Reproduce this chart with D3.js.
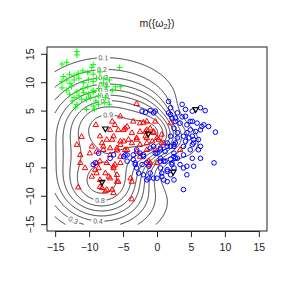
<!DOCTYPE html>
<html>
<head>
<meta charset="utf-8">
<script src="https://cdn.jsdelivr.net/npm/d3@7"></script>
<style>
body { margin: 0; background: #fff; }
text { font-family: "Liberation Sans", Arial, sans-serif; }
</style>
</head>
<body>
<svg id="chart" width="291" height="291"></svg>
<script>
// class omega1 (green +)
var greenPts = [[-11.8,15.4],[-11.8,14.8],[-14.0,13.2],[-13.3,13.5],[-9.4,13.1],[-5.5,12.6],[-13.8,11.0],[-12.9,11.4],
	[-12.2,11.2],[-11.6,11.6],[-10.9,12.0],[-10.2,11.7],[-9.6,12.6],[-9.4,11.4],[-14.0,10.1],[-13.3,10.4],[-12.8,9.8],
	[-12.2,10.4],[-11.5,10.7],[-10.8,9.9],[-10.1,10.4],[-9.4,10.1],[-8.9,10.7],[-7.8,10.7],[-7.0,10.4],[-14.0,9.0],
	[-13.3,8.6],[-12.6,9.2],[-11.8,8.3],[-10.9,8.9],[-10.2,9.2],[-9.4,8.6],[-8.6,8.9],[-7.9,9.8],[-7.4,9.2],[-6.1,9.2],
	[-5.4,9.2],[-12.9,7.9],[-12.2,7.3],[-11.5,7.6],[-10.8,8.2],[-10.1,7.9],[-9.4,8.2],[-8.6,7.6],[-7.6,7.3],[-6.6,8.5],
	[-12.5,6.7],[-11.1,7.0],[-10.4,7.0],[-9.8,7.3],[-9.0,6.7],[-8.6,6.1],[-11.8,6.1],[-10.4,5.2],[-9.4,5.8],[-9.2,5.2],
	[-7.7,6.4],[-7.0,6.1],[-12.0,5.5],[-8.4,11.8]];
// class omega2 (red triangles)
var redPts = [[-3.0,6.2],[-9.0,2.5],[-6.2,2.5],[-11.1,0.4],[-8.4,0.5],[-6.9,1.6],[-5.7,1.6],[-4.7,1.9],[-3.7,1.1],
	[-2.5,2.8],[-1.5,1.6],[-11.8,-1.0],[-9.6,-1.3],[-8.1,-0.7],[-7.4,-0.1],[-6.4,0.5],[-5.4,-0.4],[-4.2,-0.1],[-3.0,-0.1],
	[-11.3,-2.8],[-9.9,-2.5],[-8.9,-2.2],[-7.9,-1.9],[-6.9,-1.6],[-5.9,-2.0],[-4.7,-1.9],[-11.3,-4.2],[-8.4,-3.9],
	[-7.4,-4.2],[-6.2,-4.5],[-9.6,-6.6],[-8.9,-6.0],[-8.4,-7.2],[-7.1,-6.6],[-5.9,-6.3],[-5.7,-7.5],[-11.6,-8.5],
	[-8.1,-8.6],[-7.4,-8.9],[-6.4,-9.5],[-3.7,-10.6],[-3.9,-6.9],[-7.6,-9.2],[-6.4,-5.1],[-5.4,-4.2],[-10.6,-5.1],
	[-9.1,-5.4],[-8.6,-5.1],[-7.6,-6.0],[-6.9,-6.9],[-6.6,-8.9],[-8.4,-8.4],[-5.9,-7.5],[-5.4,4.0],[-6.6,3.1],[-3.5,3.1],
	[-2.0,2.9],[-1.0,1.9],[-4.4,2.2],[-0.5,1.1],[-2.5,1.3],[-4.9,1.6],[-3.0,0.2],[-1.7,0.5],[0.0,0.2],[-0.7,-0.4],
	[0.7,0.8],[-1.5,-0.7],[-2.5,-1.0],[-3.7,-0.7],[-4.9,-0.4],[-6.6,-0.1],[-7.9,-1.3],[-5.9,-1.6],[-4.4,-1.9],[-3.0,-2.2],
	[-1.5,-1.9],[-6.9,-2.8],[-5.4,-3.1],[-8.9,-4.2],[-6.4,-4.8],[-2.5,-3.1],[-1.5,3.1],[-0.25,3.1],[2.0,2.8],[-1.7,1.3],
	[-0.5,1.3],[-1.5,0.2],[0.25,-0.1],[1.0,-0.7],[3.4,-1.9],[-0.25,-1.9],[-1.2,-3.9],[0.0,-4.2],[-1.2,-4.5],[-3.7,-7.5],
	[-5.4,-1.0],[0.7,-0.7],[-1.0,-4.2]];
// class omega3 (blue circles)
var bluePts = [[1.7,6.6],[3.7,6.1],[-1.7,4.7],[-1.0,5.0],[-0.25,4.9],[2.0,5.5],[3.0,4.6],[4.2,5.2],[5.2,4.9],[6.4,5.5],
	[7.1,5.0],[2.0,4.3],[2.7,3.7],[3.7,3.9],[5.2,3.1],[4.4,2.5],[5.9,2.8],[6.9,2.5],[7.6,2.2],[8.6,1.2],[6.4,1.6],[5.7,1.3],
	[4.9,1.6],[3.9,0.5],[4.7,0.2],[5.4,-0.1],[6.4,-1.3],[2.5,-1.0],[1.5,-0.7],[3.0,0.2],[2.0,0.5],[0.5,-3.4],[2.5,-3.1],
	[3.9,-2.8],[6.4,-3.4],[4.2,4.0],[4.9,3.1],[6.6,2.2],[4.4,1.1],[5.2,0.5],[6.1,-0.1],[3.0,1.1],[2.5,1.9],[4.2,-0.4],
	[5.2,-1.0],[6.1,-1.9],[2.7,-0.7],[2.0,-1.3],[1.2,-2.2],[2.5,-2.5],[5.2,-3.4],[8.4,-4.2],[3.4,-4.5],[4.4,-4.8],[2.0,-3.6],
	[0.5,-3.9],[2.5,-5.1],[1.7,4.6],[3.4,2.8],[2.2,3.7],[2.7,3.1],[-2.2,4.9],[-0.5,4.6],[5.4,-0.7],[4.9,-1.9],[5.4,-4.8],
	[3.9,-5.1],[3.0,-3.4],[2.2,-4.5],[1.5,-5.4],[1.0,-3.9],[0.5,-5.1],[0.7,-6.0],[4.4,-6.3],[2.5,-7.2],[1.5,-7.5],[1.0,-7.2],
	[3.9,-8.9],[2.0,-6.3],[-0.5,-6.9],[-1.5,-7.2],[-2.0,-6.3],[-1.0,-6.0],[-1.2,-4.8],[0.0,-2.5],[-0.5,-1.3],[0.5,-1.6],
	[2.5,-1.3],[3.9,-1.3],[-2.0,-2.8],[-6.4,-2.8],[-4.9,-3.1],[-4.4,-2.8],[-3.0,-1.9],[-2.5,-2.5],[-2.0,-3.1],[-3.5,-3.6],
	[-3.0,-5.1],[-2.7,-6.0],[-2.2,-4.5],[-3.2,-4.2],[0.0,-6.9],[0.7,-6.6],[1.5,-5.7],[2.2,-4.2],[2.7,-3.4],[1.2,-3.9],
	[-1.0,-1.6],[-0.25,-2.5],[0.5,-1.9],[1.5,-1.3],[-8.6,-2.5],[-9.1,-4.2],[-6.9,-3.4],[-4.7,-2.8],[-3.5,-2.8],[-4.4,-3.9],
	[-3.2,-4.5],[-1.5,-4.2],[-1.2,-6.9],[-9.4,-4.5]];

// prototypes of the evidential classifier
var protoX = [-7.6, -8.1, -1.3, 5.7, 2.4];
var protoY = [1.8, -7.6, 0.9, 5.2, -5.8];
var protoClass = [2, 2, 2, 3, 3];
var protoGamma = [0.0144, 0.019, 0.035, 0.03, 0.03];
var protoAlpha = [0.95, 0.95, 0.95, 0.95, 0.95];

var levels = [0.1, 0.2, 0.3, 0.4, 0.5, 0.6, 0.7, 0.8, 0.9];
var xTicks = [-15, -10, -5, 0, 5, 10, 15];
var yTicks = [-15, -10, -5, 0, 5, 10, 15];
// level, approximate place of the label
var labelSpots = [[0.1,-7.9,14.3],[0.2,-8.1,12.2],[0.3,-7.9,10.8],[0.4,-7.9,9.6],[0.5,-7.9,8.3],[0.6,-7.8,7.3],
	[0.7,-7.6,6.4],[0.9,-7.2,3.7],[0.8,-8.4,-10.7],[0.4,-8.7,-14.4],[0.3,-12.4,-14.4]];

var svg = d3.select("#chart");
var x = d3.scaleLinear().domain([-16.2, 16.2]).range([47, 267]);
var y = d3.scaleLinear().domain([-16.2, 16.2]).range([231, 47]);

// mass on omega2 after Dempster combination of the prototypes
function massOmega2(px, py) {
	var pc = {1: 1, 2: 1, 3: 1};
	for (var i = 0; i < protoX.length; i++) {
		var d2 = (px - protoX[i]) * (px - protoX[i]) + (py - protoY[i]) * (py - protoY[i]);
		var s = protoAlpha[i] * Math.exp(-protoGamma[i] * d2);
		pc[protoClass[i]] *= (1 - s);
	}
	var mO = pc[1] * pc[2] * pc[3];
	var m1 = pc[2] * pc[3] * (1 - pc[1]);
	var m2 = pc[1] * pc[3] * (1 - pc[2]);
	var m3 = pc[1] * pc[2] * (1 - pc[3]);
	return m2 / (mO + m1 + m2 + m3);
}

var n = 301, step = 0.1;
var values = new Array(n * n);
for (var j = 0; j < n; j++) {
	for (var i = 0; i < n; i++) {
		values[j * n + i] = massOmega2(-15 + i * step, 15 - j * step);
	}
}
var contours = d3.contours().size([n, n]).thresholds(levels)(values);

function onEdge(p) {
	return p[0] < 0.25 || p[0] > n - 0.25 || p[1] < 0.25 || p[1] > n - 0.25;
}
function toData(p) {
	return [-15 + (p[0] - 0.5) * step, 15 - (p[1] - 0.5) * step];
}

var linesByLevel = {};
contours.forEach(function(c) {
	var lines = [];
	c.coordinates.forEach(function(poly) {
		poly.forEach(function(ring) {
			var pieces = [], cur = null;
			for (var k = 0; k < ring.length - 1; k++) {
				var a = ring[k], b = ring[k + 1];
				if (onEdge(a) && onEdge(b)) {
					if (cur) pieces.push(cur);
					cur = null;
					continue;
				}
				if (!cur) cur = [a];
				cur.push(b);
			}
			if (cur) pieces.push(cur);
			if (pieces.length > 1 && pieces[0][0] === ring[0] && pieces[pieces.length - 1].slice(-1)[0] === ring[ring.length - 1]) {
				var last = pieces.pop();
				pieces[0] = last.concat(pieces[0].slice(1));
			}
			pieces.forEach(function(pc) { lines.push(pc.map(toData)); });
		});
	});
	linesByLevel[c.value] = lines;
});

var line = d3.line()
	.x(function(d) { return x(d[0]); })
	.y(function(d) { return y(d[1]); });

var gc = svg.append("g").attr("class", "contours");
levels.forEach(function(lv) {
	gc.selectAll(null)
		.data(linesByLevel[lv])
		.enter()
		.append("path")
		.attr("d", line)
		.attr("fill", "none")
		.attr("stroke", "#222")
		.attr("stroke-width", 0.9);
});

// contour labels
labelSpots.forEach(function(sp) {
	var lines = linesByLevel[sp[0]] || [];
	var best = null, bd = Infinity;
	lines.forEach(function(ln) {
		ln.forEach(function(p, k) {
			var d = (p[0] - sp[1]) * (p[0] - sp[1]) + (p[1] - sp[2]) * (p[1] - sp[2]);
			if (d < bd) { bd = d; best = {ln: ln, k: k}; }
		});
	});
	if (!best) return;
	var ln = best.ln, k = best.k;
	var a = ln[Math.max(0, k - 4)], b = ln[Math.min(ln.length - 1, k + 4)];
	var ang = Math.atan2(y(b[1]) - y(a[1]), x(b[0]) - x(a[0])) * 180 / Math.PI;
	if (ang > 90) ang -= 180;
	if (ang < -90) ang += 180;
	var g = svg.append("g")
		.attr("transform", "translate(" + x(ln[k][0]) + "," + y(ln[k][1]) + ") rotate(" + ang + ")");
	g.append("rect").attr("x", -6.5).attr("y", -3.5).attr("width", 13).attr("height", 7).attr("fill", "#fff");
	g.append("text")
		.attr("text-anchor", "middle")
		.attr("dy", "0.35em")
		.attr("font-size", 7)
		.attr("fill", "#555")
		.text(d3.format(".1f")(sp[0]));
});

// points
svg.append("g").selectAll(null)
	.data(greenPts)
	.enter()
	.append("path")
	.attr("d", "M-2.9,0H2.9M0,-2.9V2.9")
	.attr("transform", function(d) { return "translate(" + x(d[0]) + "," + y(d[1]) + ")"; })
	.attr("stroke", "#00ff00")
	.attr("stroke-width", 1);

svg.append("g").selectAll(null)
	.data(redPts)
	.enter()
	.append("path")
	.attr("d", "M0,-3L2.7,1.7L-2.7,1.7Z")
	.attr("transform", function(d) { return "translate(" + x(d[0]) + "," + y(d[1]) + ")"; })
	.attr("fill", "none")
	.attr("stroke", "#ff0000")
	.attr("stroke-width", 1);

svg.append("g").selectAll(null)
	.data(bluePts)
	.enter()
	.append("circle")
	.attr("cx", function(d) { return x(d[0]); })
	.attr("cy", function(d) { return y(d[1]); })
	.attr("r", 2.3)
	.attr("fill", "none")
	.attr("stroke", "#0000ff")
	.attr("stroke-width", 1);

svg.append("g").selectAll(null)
	.data(protoX)
	.enter()
	.append("path")
	.attr("d", "M0,3L2.8,-1.8L-2.8,-1.8Z")
	.attr("transform", function(d, i) { return "translate(" + x(d) + "," + y(protoY[i]) + ")"; })
	.attr("fill", "none")
	.attr("stroke", "#000")
	.attr("stroke-width", 1.2);

// box
svg.append("rect")
	.attr("x", 47).attr("y", 47).attr("width", 220).attr("height", 184)
	.attr("fill", "none").attr("stroke", "#222").attr("stroke-width", 1);

// axes, R style
var xAxis = d3.axisBottom(x).tickValues(xTicks).tickSize(6).tickPadding(7).tickSizeOuter(0);
var yAxis = d3.axisLeft(y).tickValues(yTicks).tickSize(6).tickPadding(7).tickSizeOuter(0);

var gx = svg.append("g").attr("transform", "translate(0,231)").call(xAxis);
gx.select(".domain").attr("d", "M" + x(-15) + ",0.5H" + x(15)).attr("stroke", "#222");
gx.selectAll(".tick line").attr("stroke", "#222");
gx.selectAll(".tick text").attr("font-size", 10.5).attr("fill", "#222")
	.attr("font-family", "Liberation Sans, Arial, sans-serif");

var gy = svg.append("g").attr("transform", "translate(47,0)").call(yAxis);
gy.select(".domain").attr("d", "M-0.5," + y(-15) + "V" + y(15)).attr("stroke", "#222");
gy.selectAll(".tick line").attr("stroke", "#222");
gy.selectAll(".tick text")
	.attr("font-size", 10.5).attr("fill", "#222")
	.attr("font-family", "Liberation Sans, Arial, sans-serif")
	.attr("text-anchor", "middle")
	.attr("x", null).attr("dy", null)
	.attr("transform", "translate(-13,0) rotate(-90)");

// title
var title = svg.append("text")
	.attr("x", 157).attr("y", 26.5)
	.attr("text-anchor", "middle")
	.attr("font-size", 10.5)
	.attr("fill", "#222");
title.append("tspan").text("m({\u03c9");
title.append("tspan").attr("font-size", 7.5).attr("dy", 2.5).text("2");
title.append("tspan").attr("dy", -2.5).text("})");
</script>
</body>
</html>
